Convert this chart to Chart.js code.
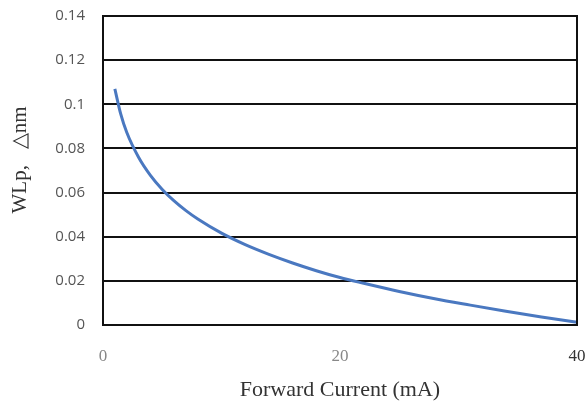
<!DOCTYPE html>
<html>
<head>
<meta charset="utf-8">
<script src="https://cdn.jsdelivr.net/npm/chart.js@4.4.1/dist/chart.umd.min.js"></script>
<style>
  html, body { margin: 0; padding: 0; background: #fff; }
  #wrap { position: relative; width: 586px; height: 407px; }
</style>
</head>
<body>
<div id="wrap"><canvas id="chart"></canvas></div>
<script>
// Forward current (mA) vs. peak wavelength shift
const currentMA = [1, 1.5, 2, 3, 4, 5, 6, 7, 8, 10, 12, 14, 16, 18, 20, 22, 25, 28, 31, 34, 37, 40];
const wlShift   = [0.107, 0.0955, 0.0873, 0.076, 0.0678, 0.0614, 0.0562, 0.0518, 0.048, 0.0416, 0.0364,
                   0.032, 0.0281, 0.0246, 0.0215, 0.0189, 0.0152, 0.0119, 0.009, 0.0062, 0.0036, 0.0012];
const xTicks = [0, 20, 40];
const yTicks = [0, 0.02, 0.04, 0.06, 0.08, 0.1, 0.12, 0.14];

const points = currentMA.map((x, i) => ({ x: x, y: wlShift[i] }));

// box around the plot area (top + right edges)
const frame = {
  id: 'frame',
  afterDraw(chart) {
    const { ctx, chartArea: a } = chart;
    ctx.save();
    ctx.strokeStyle = '#111';
    ctx.lineWidth = 2;
    ctx.strokeRect(a.left, a.top, a.right - a.left, a.bottom - a.top);
    ctx.restore();
  }
};

new Chart(document.getElementById('chart').getContext('2d'), {
  type: 'scatter',
  data: {
    datasets: [{
      data: points,
      showLine: true,
      borderColor: '#4a78c0',
      borderWidth: 3,
      pointRadius: 0,
      cubicInterpolationMode: 'monotone',
      clip: false
    }]
  },
  options: {
    responsive: true,
    maintainAspectRatio: false,
    animation: false,
    layout: { padding: { top: 16, right: 9, left: 0, bottom: 0 } },
    plugins: { legend: { display: false }, tooltip: { enabled: false } },
    scales: {
      x: {
        type: 'linear',
        min: 0,
        max: 40,
        afterBuildTicks: (s) => { s.ticks = xTicks.map(v => ({ value: v })); },
        afterFit: (s) => { s.height = 82; s.paddingLeft = 0; s.paddingRight = 0; },
        grid: { display: false, drawTicks: false },
        border: { color: '#111', width: 2 },
        ticks: {
          padding: 21,
          color: (c) => c.tick && c.tick.value === 40 ? '#333' : '#888',
          font: { family: '"Liberation Serif", serif', size: 17 }
        },
        title: {
          display: true,
          text: 'Forward Current (mA)',
          color: '#333',
          padding: { top: 0 },
          font: { family: '"Liberation Serif", serif', size: 22 }
        }
      },
      y: {
        min: 0,
        max: 0.14,
        afterBuildTicks: (s) => { s.ticks = yTicks.map(v => ({ value: v })); },
        afterFit: (s) => { s.width = 103; s.paddingTop = 0; s.paddingBottom = 0; },
        grid: { color: '#111', lineWidth: 2, drawTicks: false },
        border: { color: '#111', width: 2 },
        ticks: {
          padding: 18,
          color: '#555',
          font: { family: '"Open Sans", sans-serif', size: 15 },
          callback: (v) => String(Math.round(v * 100) / 100)
        },
        title: {
          display: true,
          text: '    WLp,   △nm',
          color: '#333',
          padding: { top: 8, bottom: 0 },
          font: { family: '"Liberation Serif", serif', size: 21 }
        }
      }
    }
  },
  plugins: [frame]
});
</script>
</body>
</html>
